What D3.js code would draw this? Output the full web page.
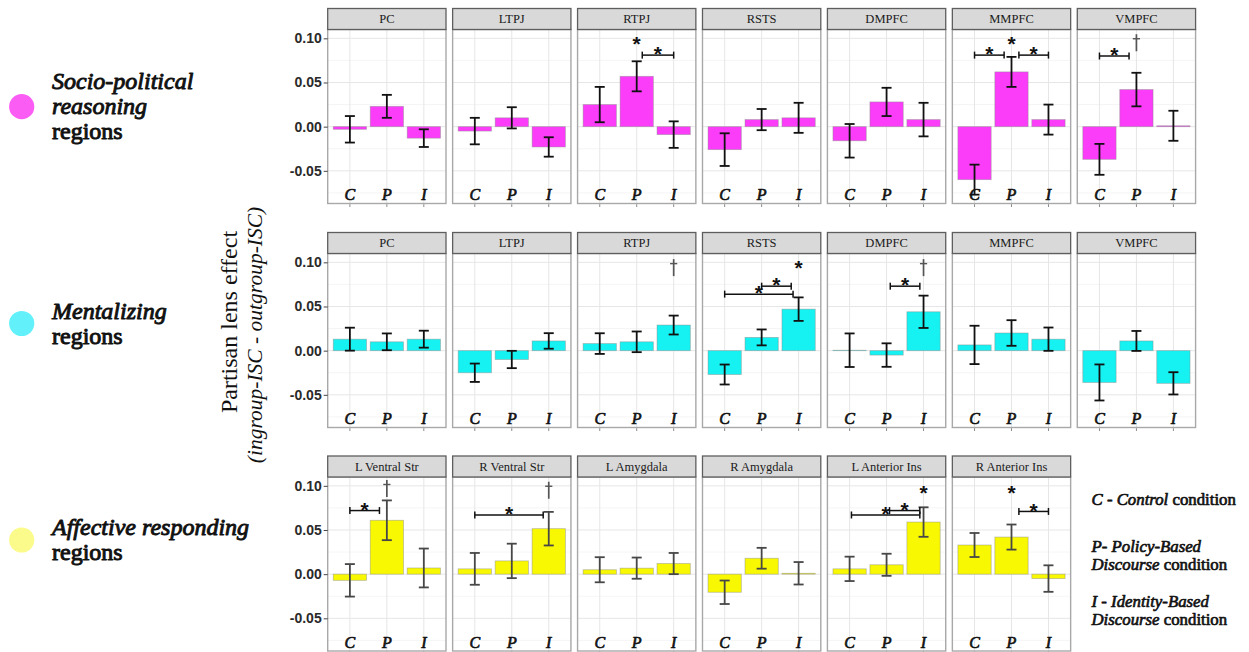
<!DOCTYPE html>
<html>
<head>
<meta charset="utf-8">
<script src="https://cdn.jsdelivr.net/npm/d3@7"></script>
<style>
  html, body { margin: 0; padding: 0; background: #ffffff; }
  svg { display: block; }
</style>
</head>
<body>
<svg id="chart" width="1249" height="652"></svg>
<script>
// ---- data -------------------------------------------------------------
const conditions = ["C", "P", "I"];
const yTickValues = [-0.05, 0.00, 0.05, 0.10];

const socioRegions = ["PC", "LTPJ", "RTPJ", "RSTS", "DMPFC", "MMPFC", "VMPFC"];
const socioMeans = [
  [-0.003, 0.023, -0.013],
  [-0.005, 0.010, -0.023],
  [0.025, 0.057, -0.009],
  [-0.026, 0.008, 0.010],
  [-0.016, 0.028, 0.008],
  [-0.060, 0.062, 0.008],
  [-0.037, 0.042, 0.001]
];
const socioErrors = [
  [0.015, 0.013, 0.010],
  [0.015, 0.012, 0.011],
  [0.020, 0.017, 0.015],
  [0.0185, 0.012, 0.017],
  [0.019, 0.016, 0.019],
  [0.017, 0.017, 0.017],
  [0.0175, 0.019, 0.017]
];

const mentalRegions = ["PC", "LTPJ", "RTPJ", "RSTS", "DMPFC", "MMPFC", "VMPFC"];
const mentalMeans = [
  [0.013, 0.010, 0.013],
  [-0.025, -0.010, 0.011],
  [0.008, 0.010, 0.029],
  [-0.027, 0.015, 0.047],
  [0.0005, -0.005, 0.044],
  [0.0065, 0.020, 0.013],
  [-0.036, 0.011, -0.037]
];
const mentalErrors = [
  [0.013, 0.0095, 0.0096],
  [0.0104, 0.0098, 0.0088],
  [0.0117, 0.0117, 0.0107],
  [0.0113, 0.009, 0.0133],
  [0.019, 0.0133, 0.0183],
  [0.0217, 0.0145, 0.0132],
  [0.0204, 0.0113, 0.0126]
];

const affectRegions = ["L Ventral Str", "R Ventral Str", "L Amygdala", "R Amygdala", "L Anterior Ins", "R Anterior Ins"];
const affectMeans = [
  [-0.007, 0.061, 0.007],
  [0.006, 0.015, 0.0515],
  [0.005, 0.0068, 0.012],
  [-0.0205, 0.018, 0.001],
  [0.006, 0.0106, 0.059],
  [0.033, 0.042, -0.005]
];
const affectErrors = [
  [0.0184, 0.0225, 0.022],
  [0.018, 0.0195, 0.019],
  [0.0142, 0.012, 0.012],
  [0.0133, 0.0118, 0.0127],
  [0.0138, 0.0125, 0.0167],
  [0.0136, 0.0142, 0.015]
];

// pairwise comparison brackets (x in condition units, 1 = C, 2 = P, 3 = I)
const sigBrackets = [
  { row: 0, panel: 2, x1: 2.15, x2: 3.0, y: 0.081 },
  { row: 0, panel: 5, x1: 1.0, x2: 1.8, y: 0.081 },
  { row: 0, panel: 5, x1: 2.2, x2: 3.0, y: 0.081 },
  { row: 0, panel: 6, x1: 1.0, x2: 1.8, y: 0.080 },
  { row: 1, panel: 3, x1: 1.0, x2: 2.85, y: 0.064 },
  { row: 1, panel: 3, x1: 2.0, x2: 2.8, y: 0.073 },
  { row: 1, panel: 4, x1: 2.1, x2: 2.9, y: 0.073 },
  { row: 2, panel: 0, x1: 1.0, x2: 1.8, y: 0.072 },
  { row: 2, panel: 1, x1: 1.0, x2: 2.85, y: 0.067 },
  { row: 2, panel: 4, x1: 1.05, x2: 2.9, y: 0.067 },
  { row: 2, panel: 4, x1: 2.08, x2: 2.9, y: 0.072 },
  { row: 2, panel: 5, x1: 2.2, x2: 3.0, y: 0.071 }
];

// single markers: "*" significant, "†" marginal
const sigMarks = [
  { row: 0, panel: 2, x: 2, y: 0.099, mark: "*" },
  { row: 0, panel: 5, x: 2, y: 0.099, mark: "*" },
  { row: 0, panel: 6, x: 2, y: 0.095, mark: "†" },
  { row: 1, panel: 2, x: 3, y: 0.094, mark: "†" },
  { row: 1, panel: 3, x: 3, y: 0.099, mark: "*" },
  { row: 1, panel: 4, x: 3, y: 0.094, mark: "†" },
  { row: 2, panel: 0, x: 2, y: 0.097, mark: "†" },
  { row: 2, panel: 1, x: 3, y: 0.095, mark: "†" },
  { row: 2, panel: 4, x: 3, y: 0.098, mark: "*" },
  { row: 2, panel: 5, x: 2, y: 0.098, mark: "*" }
];

const groupNames = [
  { italic: ["Socio-political", "reasoning"], plain: "regions" },
  { italic: ["Mentalizing"], plain: "regions" },
  { italic: ["Affective responding"], plain: "regions" }
];

// ---- layout -----------------------------------------------------------
const rows = [
  { regions: socioRegions, means: socioMeans, errs: socioErrors, fill: "#fb3cf9", dot: "#fb5cf3", errColor: "#111111" },
  { regions: mentalRegions, means: mentalMeans, errs: mentalErrors, fill: "#16f1f1", dot: "#62f1fa", errColor: "#111111" },
  { regions: affectRegions, means: affectMeans, errs: affectErrors, fill: "#f8f802", dot: "#fbfb8c", errColor: "#474747" }
];

const stripTops = [8.5, 232.5, 456];
const stripH = 21;
const plotH = 174;
const panelX0 = 327.7;
const panelStep = 124.93;
const panelW = 118.3;
const yDomain = [-0.087, 0.11];

const serif = "'Liberation Serif', 'Times New Roman', serif";
const sans = "'Liberation Sans', Arial, Helvetica, sans-serif";

const svg = d3.select("#chart");

// heavy serif text: regular face thickened with a matching outline
function heavySerif(sel, size, italic) {
  return sel.attr("font-family", serif)
    .attr("font-size", size)
    .attr("font-style", italic ? "italic" : "normal")
    .attr("fill", "#111")
    .attr("stroke", "#111")
    .attr("stroke-width", size * 0.04)
    .attr("stroke-linejoin", "round");
}

function yScaleFor(r) {
  const top = stripTops[r] + stripH;
  return d3.scaleLinear().domain(yDomain).range([top + plotH, top]);
}
function xScaleFor(p) {
  const x0 = panelX0 + p * panelStep;
  return d3.scaleLinear().domain([0.4, 3.6]).range([x0, x0 + panelW]);
}

rows.forEach((row, r) => {
  const y = yScaleFor(r);
  const top = stripTops[r] + stripH;
  const bottom = top + plotH;

  row.regions.forEach((name, p) => {
    const x = xScaleFor(p);
    const g = svg.append("g").attr("class", "panel");
    const left = x.range()[0];

    g.append("rect")
      .attr("x", left).attr("y", top)
      .attr("width", panelW).attr("height", plotH)
      .attr("fill", "#ffffff");

    // grid
    g.selectAll("line.minor")
      .data([-0.075, -0.025, 0.025, 0.075])
      .join("line")
      .attr("x1", left).attr("x2", left + panelW)
      .attr("y1", d => y(d)).attr("y2", d => y(d))
      .attr("stroke", "#f2f2f2").attr("stroke-width", 0.8);
    g.selectAll("line.major")
      .data(yTickValues)
      .join("line")
      .attr("x1", left).attr("x2", left + panelW)
      .attr("y1", d => y(d)).attr("y2", d => y(d))
      .attr("stroke", "#e6e6e6").attr("stroke-width", 1);
    g.selectAll("line.vgrid")
      .data([1, 2, 3])
      .join("line")
      .attr("x1", d => x(d)).attr("x2", d => x(d))
      .attr("y1", top).attr("y2", bottom)
      .attr("stroke", "#e6e6e6").attr("stroke-width", 1);

    // bars
    const vals = row.means[p];
    const errs = row.errs[p];
    const barData = conditions.map((c, i) => ({ c, i: i + 1, v: vals[i], e: errs[i] }));
    const half = 0.45;
    g.selectAll("rect.bar")
      .data(barData)
      .join("rect")
      .attr("class", "bar")
      .attr("x", d => x(d.i - half))
      .attr("width", d => x(d.i + half) - x(d.i - half))
      .attr("y", d => Math.min(y(d.v), y(0)))
      .attr("height", d => Math.abs(y(d.v) - y(0)))
      .attr("fill", row.fill)
      .attr("stroke", "rgba(140,140,140,0.55)")
      .attr("stroke-width", 0.8);

    // error bars
    const capHalf = 5;
    const eg = g.selectAll("g.err").data(barData).join("g")
      .attr("stroke", row.errColor).attr("stroke-width", 1.8).attr("fill", "none");
    eg.append("line")
      .attr("x1", d => x(d.i)).attr("x2", d => x(d.i))
      .attr("y1", d => y(d.v + d.e)).attr("y2", d => y(d.v - d.e));
    eg.append("line")
      .attr("x1", d => x(d.i) - capHalf).attr("x2", d => x(d.i) + capHalf)
      .attr("y1", d => y(d.v + d.e)).attr("y2", d => y(d.v + d.e));
    eg.append("line")
      .attr("x1", d => x(d.i) - capHalf).attr("x2", d => x(d.i) + capHalf)
      .attr("y1", d => y(d.v - d.e)).attr("y2", d => y(d.v - d.e));

    // comparison brackets
    sigBrackets.filter(b => b.row === r && b.panel === p).forEach(b => {
      const bg = g.append("g").attr("stroke", "#111").attr("stroke-width", 1.5);
      bg.append("line").attr("x1", x(b.x1)).attr("x2", x(b.x2)).attr("y1", y(b.y)).attr("y2", y(b.y));
      [b.x1, b.x2].forEach(t => {
        bg.append("line").attr("x1", x(t)).attr("x2", x(t))
          .attr("y1", y(b.y) - 3.5).attr("y2", y(b.y) + 3.5);
      });
      const fs = 21;
      g.append("text")
        .attr("x", x((b.x1 + b.x2) / 2))
        .attr("y", y(b.y) - 6 + 0.575 * fs)
        .attr("text-anchor", "middle")
        .attr("font-family", sans).attr("font-weight", "bold")
        .attr("font-size", fs).attr("fill", "#111")
        .text("*");
    });

    // single markers
    sigMarks.filter(m => m.row === r && m.panel === p).forEach(m => {
      const cx = x(m.x), cy = y(m.y);
      if (m.mark === "*") {
        const fs = 21;
        g.append("text")
          .attr("x", cx).attr("y", cy + 0.575 * fs)
          .attr("text-anchor", "middle")
          .attr("font-family", sans).attr("font-weight", "bold")
          .attr("font-size", fs).attr("fill", "#111")
          .text(m.mark);
      } else {
        // dagger drawn as a stem with a cross bar
        const dg = g.append("g").attr("stroke", "#555").attr("fill", "none");
        dg.append("line").attr("x1", cx).attr("x2", cx)
          .attr("y1", cy - 8.5).attr("y2", cy + 8.5).attr("stroke-width", 1.7);
        dg.append("line").attr("x1", cx - 3.6).attr("x2", cx + 3.6)
          .attr("y1", cy - 4).attr("y2", cy - 4).attr("stroke-width", 1.4);
      }
    });

    // condition letters inside the panel
    g.selectAll("text.cond")
      .data(barData)
      .join("text")
      .attr("x", d => x(d.i))
      .attr("y", bottom - 3.5)
      .attr("text-anchor", "middle")
      .call(s => heavySerif(s, 16, true))
      .text(d => d.c);

    // panel border
    g.append("rect")
      .attr("x", left).attr("y", top)
      .attr("width", panelW).attr("height", plotH)
      .attr("fill", "none").attr("stroke", "#a8a8a8").attr("stroke-width", 1.4);

    // x ticks below the panel
    g.selectAll("line.xtick")
      .data([1, 2, 3])
      .join("line")
      .attr("x1", d => x(d)).attr("x2", d => x(d))
      .attr("y1", bottom + 0.7).attr("y2", bottom + 3.5)
      .attr("stroke", "#8a8a8a").attr("stroke-width", 1);

    // strip
    g.append("rect")
      .attr("x", left).attr("y", stripTops[r])
      .attr("width", panelW).attr("height", stripH)
      .attr("fill", "#d9d9d9").attr("stroke", "#5e5e5e").attr("stroke-width", 1.3);
    g.append("text")
      .attr("x", left + panelW / 2).attr("y", stripTops[r] + stripH / 2 + 4.3)
      .attr("text-anchor", "middle")
      .attr("font-family", serif).attr("font-size", 12.5).attr("fill", "#1a1a1a")
      .text(name);

    // y axis on the first panel of each row
    if (p === 0) {
      const ax = svg.append("g")
        .attr("transform", `translate(${left},0)`)
        .call(d3.axisLeft(y).tickValues(yTickValues).tickSize(4).tickPadding(2)
          .tickFormat(d => d.toFixed(2)));
      ax.select(".domain").remove();
      ax.selectAll(".tick line").attr("stroke", "#444");
      ax.selectAll(".tick text")
        .attr("font-family", sans).attr("font-weight", "bold")
        .attr("font-size", 14).attr("fill", "#2a2a2a");
    }
  });
});

// ---- region group legend (left) -------------------------------------------
const groupDotY = [106.7, 323.5, 540];
const groupFirstBaseline = [88.5, 318.5, 535];
groupNames.forEach((gname, i) => {
  svg.append("circle")
    .attr("cx", 21.7).attr("cy", groupDotY[i]).attr("r", 12.6)
    .attr("fill", rows[i].dot);
  const lines = gname.italic.map(s => ({ s, italic: true })).concat([{ s: gname.plain, italic: false }]);
  lines.forEach((ln, k) => {
    svg.append("text")
      .attr("x", 52).attr("y", groupFirstBaseline[i] + k * 25)
      .call(s => heavySerif(s, 24, ln.italic))
      .text(ln.s);
  });
});

// ---- y axis title ---------------------------------------------------------
svg.append("text")
  .attr("transform", "translate(237,322) rotate(-90)")
  .attr("text-anchor", "middle")
  .attr("font-family", serif).attr("font-size", 24).attr("fill", "#111")
  .text("Partisan lens effect");
svg.append("text")
  .attr("transform", "translate(261.5,335) rotate(-90)")
  .attr("text-anchor", "middle")
  .attr("font-family", serif).attr("font-style", "italic").attr("font-size", 21.5).attr("fill", "#111")
  .text("(ingroup-ISC - outgroup-ISC)");

// ---- condition legend (right) ---------------------------------------------
const condLegend = [
  { y: 505, parts: [["C - Control", true], [" condition", false]] },
  { y: 551.5, parts: [["P- Policy-Based", true]] },
  { y: 570, parts: [["Discourse", true], [" condition", false]] },
  { y: 606.5, parts: [["I - Identity-Based", true]] },
  { y: 625, parts: [["Discourse", true], [" condition", false]] }
];
condLegend.forEach(line => {
  const t = svg.append("text")
    .attr("x", 1091.5).attr("y", line.y)
    .call(s => heavySerif(s, 16.8, false))
    .attr("xml:space", "preserve").style("white-space", "pre");
  line.parts.forEach(([s, it]) => {
    t.append("tspan").attr("font-style", it ? "italic" : "normal").text(s);
  });
});
</script>
</body>
</html>
